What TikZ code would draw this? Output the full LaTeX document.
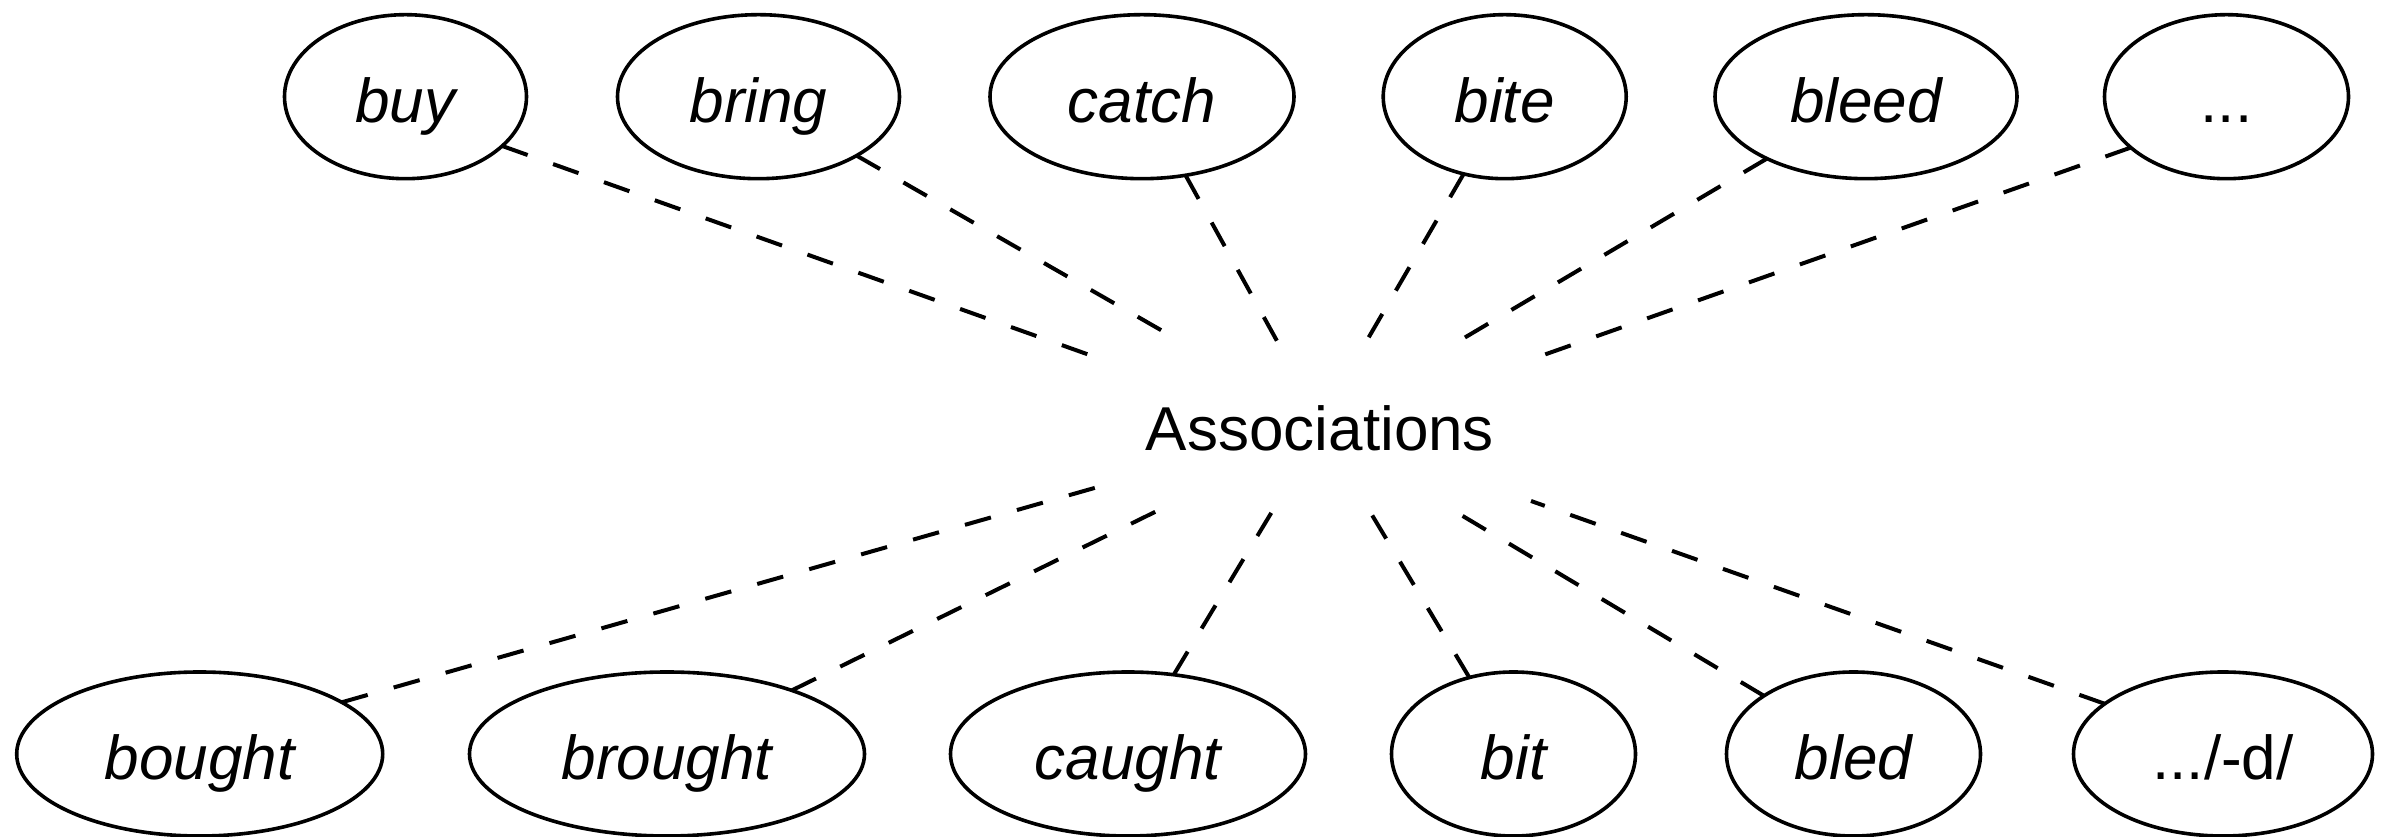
\documentclass[tikz,border=0pt]{standalone}
\usepackage{fontspec}
\setmainfont{Liberation Sans}
\usetikzlibrary{shapes.geometric}
\begin{document}
\begin{tikzpicture}[x=1pt,y=1pt,
  word/.style={draw, ellipse, line width=3.6pt, inner sep=0pt, outer sep=0pt,
    minimum height=164pt, text height=52pt, text depth=0pt,
    font=\fontsize{62}{70}\selectfont\itshape},
  plain/.style={font=\fontsize{62}{70}\selectfont\upshape},
  link/.style={line width=4pt, dash pattern=on 27pt off 27pt}]
\useasboundingbox (0,0) rectangle (2402,837);
% top row
\node[word, minimum width=242pt] (buy)   at (405.5,740.3) {buy};
\node[word, minimum width=282pt] (bring) at (758.5,740.3) {bring};
\node[word, minimum width=304pt] (catch) at (1142,740.3) {catch};
\node[word, minimum width=243pt] (bite)  at (1504.7,740.3) {bite};
\node[word, minimum width=302pt] (bleed) at (1866,740.3) {bleed};
\node[word, plain, minimum width=244pt] (dots) at (2226.5,740.3) {...};
% bottom row
\node[word, minimum width=366pt] (bought)  at (199.7,83) {bought};
\node[word, minimum width=395pt] (brought) at (667,83) {brought};
\node[word, minimum width=355pt] (caught)  at (1128,83) {caught};
\node[word, minimum width=244pt] (bit)     at (1513.5,83) {bit};
\node[word, minimum width=254pt] (bled)    at (1853.5,83) {bled};
\node[word, plain, minimum width=299pt] (dd) at (2223,83) {.../-d/};
% centre
\node[plain, anchor=base] (assoc) at (1320,386.3) {Associations};
% hub ends
\coordinate (hbuy)   at (1098,479);
\coordinate (hbring) at (1166,504);
\coordinate (hcatch) at (1277,496);
\coordinate (hbite)  at (1366,495);
\coordinate (hbleed) at (1459,496);
\coordinate (hdots)  at (1535,479);
\coordinate (hbought)  at (1112,354);
\coordinate (hbrought) at (1161,328);
\coordinate (hcaught)  at (1273,327);
\coordinate (hbit)     at (1369,327);
\coordinate (hbled)    at (1451,328);
\coordinate (hdd)      at (1531,336);
% connectors
\draw[link] (buy.-27.5) -- (hbuy);
\draw[link] (bring.-31) -- (hbring);
\draw[link] (catch.-61.8) -- (hcatch);
\draw[link] (bite.-118.6) -- (hbite);
\draw[link] (bleed.-148.1) -- (hbleed);
\draw[link] (dots.-152) -- (hdots);
\draw[link] (bought.20.6) -- (hbought);
\draw[link] (brought.27.7) -- (hbrought);
\draw[link] (caught.60.7) -- (hcaught);
\draw[link] (bit.120.2) -- (hbit);
\draw[link] (bled.147.7) -- (hbled);
\draw[link] (dd.157.1) -- (hdd);
\end{tikzpicture}
\end{document}
